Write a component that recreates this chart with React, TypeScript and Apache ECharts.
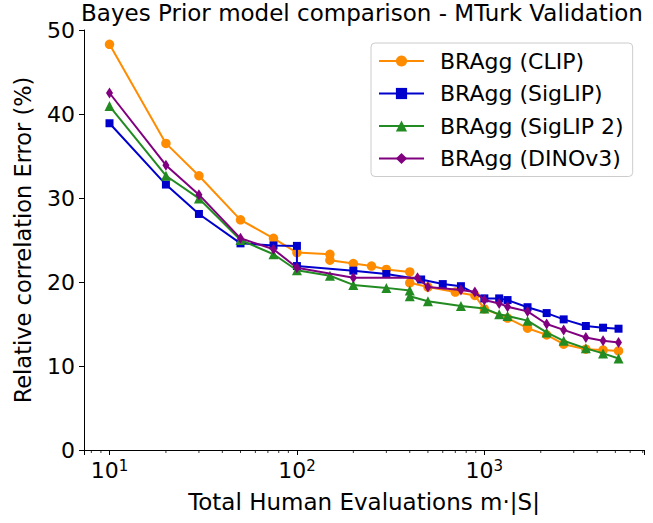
import React, { useEffect, useRef } from "react";
import * as echarts from "echarts";

const seriesNames = ["BRAgg (CLIP)", "BRAgg (SigLIP)", "BRAgg (SigLIP 2)", "BRAgg (DINOv3)"];
const seriesColors = ["#ff8c00", "#0000cd", "#228b22", "#800080"];
const seriesSymbols = ["circle", "rect", "triangle", "diamond"];

const clipX = [10, 20, 30, 50, 75, 100, 150, 150, 200, 250, 300, 400, 400, 500, 700, 890, 1000, 1330, 1700, 2150, 2650, 3480, 4300, 5200];
const clipY = [48.3, 36.5, 32.65, 27.4, 25.2, 23.5, 23.3, 22.6, 22.2, 21.9, 21.5, 21.2, 19.9, 19.4, 18.8, 18.4, 16.8, 15.7, 14.5, 13.7, 12.6, 12.0, 11.9, 11.8];

const siglipX = [10, 20, 30, 50, 75, 100, 100, 200, 300, 460, 600, 750, 1000, 1200, 1330, 1700, 2150, 2650, 3480, 4300, 5200];
const siglipY = [38.9, 31.6, 28.1, 24.6, 24.35, 24.3, 21.9, 21.35, 20.95, 20.3, 19.75, 19.5, 18.05, 18.05, 17.85, 17.0, 16.3, 15.55, 14.76, 14.56, 14.44];

const siglip2X = [10, 20, 30, 50, 75, 100, 150, 200, 300, 400, 400, 500, 750, 1000, 1200, 1330, 1700, 2150, 2650, 3480, 4300, 5200];
const siglip2Y = [40.95, 32.65, 29.95, 25.0, 23.3, 21.4, 20.75, 19.65, 19.3, 19.0, 18.3, 17.7, 17.15, 16.85, 16.15, 15.95, 15.4, 14.0, 13.0, 12.1, 11.5, 10.9];

const dinoX = [10, 20, 30, 50, 75, 100, 200, 440, 500, 750, 890, 1000, 1200, 1330, 1700, 2150, 2650, 3480, 4300, 5200];
const dinoY = [42.5, 33.9, 30.4, 25.2, 23.9, 21.7, 20.5, 20.5, 19.4, 19.05, 18.8, 17.85, 17.45, 17.05, 16.5, 15.0, 14.3, 13.4, 13.0, 12.8];

const yTicks = [0, 10, 20, 30, 40, 50];
const xMinorTicks = [8, 9, 20, 30, 40, 50, 60, 70, 80, 90, 200, 300, 400, 500, 600, 700, 800, 900, 2000, 3000, 4000, 5000, 6000, 7000];

const allX = [clipX, siglipX, siglip2X, dinoX];
const allY = [clipY, siglipY, siglip2Y, dinoY];
const symbolSizes: any[] = [9.5, 8, 10, [7, 11]];

const FONT = "DejaVu Sans";

export default function App() {
  const ref = useRef<HTMLDivElement>(null);
  useEffect(() => {
    if (!ref.current) return;
    const chart = echarts.init(ref.current, undefined, { renderer: "svg" });
    const series = seriesNames.map((name, i) => ({
      name,
      type: "line",
      data: allX[i].map((x, j) => [x, allY[i][j]]),
      symbol: seriesSymbols[i],
      symbolSize: symbolSizes[i],
      showSymbol: true,
      lineStyle: { width: 2, color: seriesColors[i] },
      itemStyle: { color: seriesColors[i] },
      z: 2 + i,
    }));
    chart.setOption({
      animation: false,
      textStyle: { fontFamily: FONT },
      title: {
        text: "Bayes Prior model comparison - MTurk Validation",
        left: 362,
        textAlign: "center",
        top: 1,
        padding: 0,
        textStyle: { fontFamily: FONT, fontSize: 23, lineHeight: 24, fontWeight: "normal", color: "#000" },
      },
      grid: { left: 84, right: 9, top: 30, bottom: 73 },
      legend: {
        orient: "vertical",
        left: 371,
        top: 43,
        padding: [6, 9, 6, 7],
        itemWidth: 45,
        itemHeight: 14,
        itemGap: 8.5,
        backgroundColor: "rgba(255,255,255,0.8)",
        borderColor: "#cccccc",
        borderWidth: 1,
        borderRadius: 4,
        textStyle: { fontFamily: FONT, fontSize: 22, color: "#000", padding: [0, 0, 0, 11], lineHeight: 24 },
        data: seriesNames,
      },
      xAxis: {
        type: "log",
        logBase: 10,
        min: 7.31,
        max: 7110,
        name: "Total Human Evaluations m·|S|",
        nameLocation: "middle",
        nameGap: 40,
        nameTextStyle: { fontFamily: FONT, fontSize: 23, color: "#000" },
        axisLine: { show: true, lineStyle: { color: "#000", width: 1 } },
        axisTick: { show: true, length: 5, lineStyle: { color: "#000", width: 1 } },
        splitLine: { show: false },
        axisLabel: {
          margin: 8,
          color: "#000",
          fontFamily: FONT,
          formatter: (v: number) => {
            const e = Math.log10(v);
            if (Math.abs(e - Math.round(e)) < 1e-6) return "{b|10}{s|" + Math.round(e) + "}";
            return "";
          },
          rich: {
            b: { fontSize: 22, fontFamily: FONT, color: "#000" },
            s: { fontSize: 15, fontFamily: FONT, color: "#000", verticalAlign: "top", padding: [0, 0, 10, 0] },
          },
        },
      },
      yAxis: {
        type: "value",
        min: 0,
        max: 50,
        interval: 10,
        name: "Relative correlation Error (%)",
        nameLocation: "middle",
        nameGap: 50,
        nameTextStyle: { fontFamily: FONT, fontSize: 22.5, color: "#000" },
        axisLine: { show: true, lineStyle: { color: "#000", width: 1 } },
        axisTick: { show: true, length: 5, lineStyle: { color: "#000", width: 1 } },
        splitLine: { show: false },
        axisLabel: { margin: 9, color: "#000", fontFamily: FONT, fontSize: 22 },
      },
      series,
    });
    const y0 = chart.convertToPixel({ yAxisIndex: 0 }, yTicks[0]) as number;
    const minor = xMinorTicks.map((v) => {
      const px = chart.convertToPixel({ xAxisIndex: 0 }, v) as number;
      return {
        type: "line",
        shape: { x1: px, y1: y0, x2: px, y2: y0 + 3 },
        style: { stroke: "#000", lineWidth: 0.8 },
        silent: true,
      };
    });
    chart.setOption({ graphic: minor });
    return () => chart.dispose();
  }, []);
  return (
    <div
      ref={ref}
      style={{ position: "fixed", left: 0, top: 0, width: 653, height: 523, background: "#fff" }}
    />
  );
}
